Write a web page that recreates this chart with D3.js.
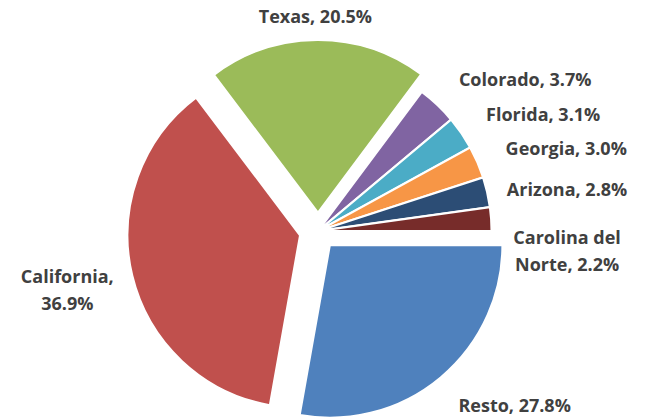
<!DOCTYPE html>
<html lang="en">
<head>
    <meta charset="UTF-8">
    <title>pie</title>
    <script src="https://cdn.jsdelivr.net/npm/d3@7"></script>
    <style>
        body{ margin: 0; background: white; }
        .lbl{
            font-family: "Open Sans", sans-serif;
            font-weight: bold;
            font-size: 18px;
            fill: #404040;
        }
    </style>
</head>
<body>
<svg id="chart" width="645" height="419"></svg>
<script>
    // data (percent share)
    let states = ["Resto", "California", "Texas", "Colorado", "Florida", "Georgia", "Arizona", "Carolina del Norte"]
    let shares = [27.8, 36.9, 20.5, 3.7, 3.1, 3.0, 2.8, 2.2]
    let colors = ["#4F81BD", "#C0504D", "#9BBB59", "#8064A2", "#4BACC6", "#F79646", "#2C4D75", "#772C2A"]
    // label text lines
    let labelLines = [["Resto, 27.8%"], ["California,", "36.9%"], ["Texas, 20.5%"], ["Colorado, 3.7%"],
        ["Florida, 3.1%"], ["Georgia, 3.0%"], ["Arizona, 2.8%"], ["Carolina del", "Norte, 2.2%"]]

    // layout
    let cx = 318, cy = 231, r = 172.5
    let explode = [18.5, 18.5, 18.5, 1, 1, 1, 1, 1]
    // label nudge from the slice's outer point
    let nudge = [[74, 35], [-65, 7], [-2, -17], [88, -19], [82, -12], [89, -7], [80, 4], [76, 25]]

    let svg = d3.select("#chart")
    let g = svg.append("g").attr("transform", `translate(${cx},${cy})`)

    let pie = d3.pie().sort(null).value(d => d)
        .startAngle(Math.PI / 2).endAngle(Math.PI / 2 + 2 * Math.PI)
    let arcs = pie(shares)
    let arc = d3.arc().innerRadius(0).outerRadius(r)

    function dir(d){
        let a = (d.startAngle + d.endAngle) / 2
        return [Math.sin(a), -Math.cos(a)]
    }

    g.selectAll("path")
        .data(arcs)
        .enter()
        .append("path")
        .attr("d", arc)
        .attr("fill", (d, i) => colors[i])
        .attr("stroke", "white")
        .attr("stroke-width", 2)
        .attr("transform", (d, i) => {
            let u = dir(d)
            return `translate(${u[0] * explode[i]},${u[1] * explode[i]})`
        })

    arcs.forEach(function (d, i){
        let u = dir(d)
        let ax = u[0] * (r + explode[i]) + nudge[i][0]
        let ay = u[1] * (r + explode[i]) + nudge[i][1]
        let t = g.append("text")
            .attr("class", "lbl")
            .attr("text-anchor", "middle")
            .attr("x", ax)
            .attr("y", ay)
        labelLines[i].forEach(function (s, k){
            t.append("tspan").attr("x", ax).attr("dy", k === 0 ? 0 : 27).text(s)
        })
    })
</script>
</body>
</html>
